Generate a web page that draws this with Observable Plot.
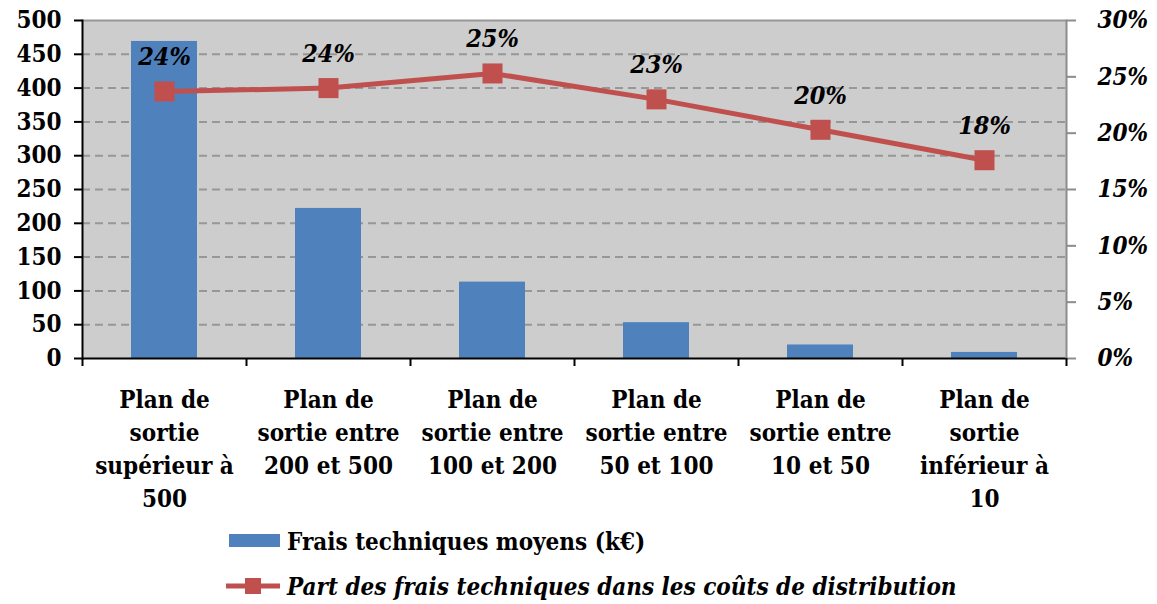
<!DOCTYPE html>
<html><head><meta charset="utf-8">
<script src="https://cdn.jsdelivr.net/npm/d3@7"></script>
<script src="https://cdn.jsdelivr.net/npm/@observablehq/plot@0.6"></script>
<style>
body{margin:0;background:#fff;font-family:"DejaVu Serif Condensed","DejaVu Serif",serif;font-weight:bold;}
#legend{padding-left:226px;margin-top:16px;font-size:24px;color:#000;}
.row{display:flex;align-items:center;height:30px;}
.row + .row{margin-top:15px;}
.row svg{margin-right:6px;}
.it{font-style:italic;}
</style></head><body>
<div id="chart"></div>
<div id="legend"></div>
<script>
const categories = [
  "Plan de\nsortie\nsupérieur à\n500",
  "Plan de\nsortie entre\n200 et 500",
  "Plan de\nsortie entre\n100 et 200",
  "Plan de\nsortie entre\n50 et 100",
  "Plan de\nsortie entre\n10 et 50",
  "Plan de\nsortie\ninférieur à\n10"
];
const fraisMoyens = [469, 222, 113, 53, 20, 9];
const partFrais = [23.7, 24.0, 25.3, 23.0, 20.3, 17.6];
const leftTicks = [0, 50, 100, 150, 200, 250, 300, 350, 400, 450, 500];
const rightTicks = [0, 5, 10, 15, 20, 25, 30];
const seriesNames = ["Frais techniques moyens (k€)", "Part des frais techniques dans les coûts de distribution"];
const barColor = "#4F81BD", lineColor = "#C0504D";

const W = 1157, H = 510, mL = 82, mR = 91, mT = 20, mB = 152;
const k = 500 / 30;
const half = (W - mL - mR) / categories.length / 2;
const data = categories.map((c, i) => ({cat: c, frais: fraisMoyens[i], part: partFrais[i], partY: partFrais[i] * k}));
const font = '"DejaVu Serif Condensed","DejaVu Serif",serif';

const chart = Plot.plot({
  width: W, height: H, marginLeft: mL, marginRight: mR, marginTop: mT, marginBottom: mB,
  style: {fontFamily: font, fontWeight: "bold", fontSize: "24px", color: "#000", background: "transparent", overflow: "visible"},
  x: {domain: categories, paddingInner: 0.6, paddingOuter: 0.3},
  y: {domain: [0, 500]},
  marks: [
    Plot.frame({fill: "#cdcdcd", stroke: null}),
    Plot.gridY(leftTicks.filter(d => d > 0 && d < 500), {stroke: "#979797", strokeOpacity: 1, strokeWidth: 2, strokeDasharray: "8,5"}),
    Plot.ruleY([500], {stroke: "#979797", strokeWidth: 2}),
    Plot.barY(data, {x: "cat", y: "frais", fill: barColor}),
    Plot.lineY(data, {x: "cat", y: "partY", stroke: lineColor, strokeWidth: 5}),
    Plot.dot(data, {x: "cat", y: "partY", symbol: "square", r: 11.3, fill: lineColor, stroke: null}),
    Plot.text(data, {x: "cat", y: "partY", text: d => Math.round(d.part) + "%", dy: -34, fontStyle: "italic", fontWeight: "bold", fontSize: 25, fill: "#000"}),
    Plot.ruleY([0], {stroke: "#000", strokeWidth: 2}),
    Plot.frame({anchor: "left", stroke: "#000", strokeWidth: 2}),
    Plot.frame({anchor: "right", stroke: "#8c8c8c", strokeWidth: 2}),
    Plot.axisY({anchor: "left", ticks: leftTicks, tickSize: 8, tickPadding: 13, stroke: "#000", strokeWidth: 2, fill: "#000", fontSize: 24, label: null}),
    Plot.axisY({anchor: "right", ticks: rightTicks.map(p => p * k), tickFormat: d => Math.round(d / k) + "%", tickSize: 9, tickPadding: 22, stroke: "#8c8c8c", strokeWidth: 2, fill: "#000", fontStyle: "italic", fontSize: 24, label: null}),
    Plot.axisX({tickSize: 0, tickPadding: 26, lineHeight: 1.375, fontSize: 24, fill: "#000", label: null}),
    Plot.axisX({tickSize: 8, tickFormat: () => "", dx: -half, stroke: "#000", strokeWidth: 2, label: null}),
    Plot.axisX([categories[categories.length - 1]], {tickSize: 8, tickFormat: () => "", dx: half, stroke: "#000", strokeWidth: 2, label: null})
  ]
});
document.getElementById("chart").appendChild(chart);

const lg = document.getElementById("legend");
lg.innerHTML = `
<div class="row"><svg width="55" height="14"><rect x="3" y="0" width="51" height="13" fill="${barColor}"/></svg><span>${seriesNames[0]}</span></div>
<div class="row"><svg width="55" height="20"><line x1="0" y1="10" x2="54" y2="10" stroke="${lineColor}" stroke-width="5"/><rect x="19" y="2" width="16" height="16" fill="${lineColor}"/></svg><span class="it">${seriesNames[1]}</span></div>`;
</script>
</body></html>
